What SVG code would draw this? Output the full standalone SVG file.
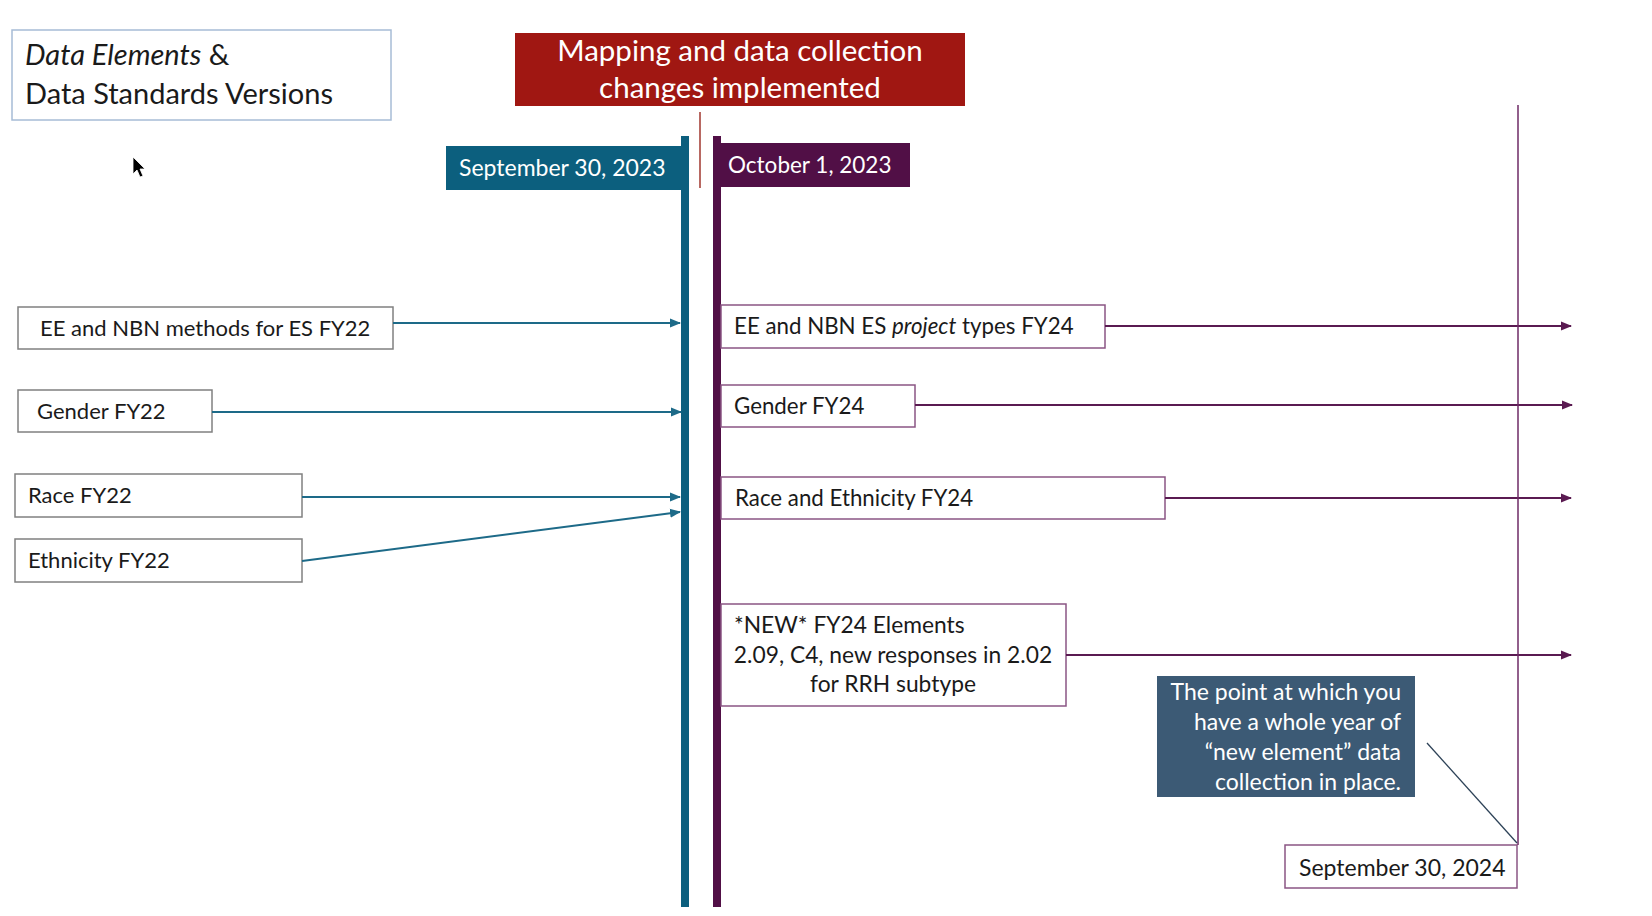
<svg xmlns="http://www.w3.org/2000/svg" width="1652" height="916" viewBox="0 0 1652 916">
  <defs>
    <style>
      .t { font-family: Lato, "Open Sans", "Liberation Sans", sans-serif; fill: #1a1a1a; }
      .w { font-family: Lato, "Open Sans", "Liberation Sans", sans-serif; fill: #ffffff; }
      .boxL { fill: #ffffff; stroke: #808080; stroke-width: 1.5; }
      .boxR { fill: #ffffff; stroke: #8a5584; stroke-width: 1.5; }
      .cL { stroke: #1d6a88; stroke-width: 2; fill: none; }
      .cR { stroke: #5a1a51; stroke-width: 2; fill: none; }
    </style>
    <marker id="aL" markerWidth="11" markerHeight="10" refX="10" refY="5" orient="auto" markerUnits="userSpaceOnUse">
      <path d="M0,0.5 L11,5 L0,9.5 z" fill="#1d6a88"/>
    </marker>
    <marker id="aR" markerWidth="11" markerHeight="10" refX="10" refY="5" orient="auto" markerUnits="userSpaceOnUse">
      <path d="M0,0.5 L11,5 L0,9.5 z" fill="#5a1a51"/>
    </marker>
  </defs>
  <rect width="1652" height="916" fill="#ffffff"/>

  <g id="title">
    <rect x="12" y="30" width="379" height="90" fill="#ffffff" stroke="#a7bcd6" stroke-width="1.5"/>
    <text class="t" x="25" y="65" font-size="29"><tspan font-style="italic">Data Elements</tspan> &amp;</text>
    <text class="t" x="25" y="104" font-size="29">Data Standards Versions</text>
  </g>

  <g id="cursor">
    <path d="M133,157 L133,174 L137,170 L140,177 L143,176 L140,169 L145,169 z" fill="#000000" stroke="#ffffff" stroke-width="0.8"/>
  </g>

  <g id="banner">
    <rect x="515" y="33" width="450" height="73" fill="#a01712"/>
    <text class="w" x="740" y="61" font-size="29.5" text-anchor="middle">Mapping and data collection</text>
    <text class="w" x="740" y="98" font-size="29.5" text-anchor="middle">changes implemented</text>
  </g>

  <g id="sep2023">
    <rect x="446" y="146" width="237" height="44" fill="#0c5f7e"/>
    <rect x="681" y="136" width="8" height="771" fill="#0c5f7e"/>
    <text class="w" x="459" y="176" font-size="23">September 30, 2023</text>
  </g>

  <g id="oct2023">
    <rect x="713" y="136" width="8" height="771" fill="#510f46"/>
    <rect x="713" y="143" width="197" height="44" fill="#510f46"/>
    <text class="w" x="728" y="173" font-size="22.5">October 1, 2023</text>
  </g>

  <g id="sep2024">
    <rect x="1285" y="845" width="232" height="43" class="boxR"/>
    <text class="t" x="1299" y="876" font-size="23">September 30, 2024</text>
  </g>

  <g id="callout">
    <rect x="1157" y="676" width="258" height="121" fill="#3c5a75"/>
    <text class="w" x="1401" y="700" font-size="23" text-anchor="end">The point at which you</text>
    <text class="w" x="1401" y="730" font-size="23" text-anchor="end">have a whole year of</text>
    <text class="w" x="1401" y="760" font-size="23" text-anchor="end">“new element” data</text>
    <text class="w" x="1401" y="790" font-size="23" text-anchor="end">collection in place.</text>
  </g>

  <g id="l1">
    <rect x="18" y="307" width="375" height="42" class="boxL"/>
    <text class="t" x="40" y="336" font-size="22">EE and NBN methods for ES FY22</text>
  </g>
  <g id="l2">
    <rect x="18" y="390" width="194" height="42" class="boxL"/>
    <text class="t" x="37" y="419" font-size="22">Gender FY22</text>
  </g>
  <g id="l3">
    <rect x="15" y="474" width="287" height="43" class="boxL"/>
    <text class="t" x="28" y="503" font-size="22">Race FY22</text>
  </g>
  <g id="l4">
    <rect x="15" y="539" width="287" height="43" class="boxL"/>
    <text class="t" x="28" y="568" font-size="22">Ethnicity FY22</text>
  </g>

  <g id="r1">
    <rect x="721" y="305" width="384" height="43" class="boxR"/>
    <text class="t" x="734" y="334" font-size="22.3">EE and NBN ES <tspan font-style="italic">project</tspan> types FY24</text>
  </g>
  <g id="r2">
    <rect x="721" y="385" width="194" height="42" class="boxR"/>
    <text class="t" x="734" y="414" font-size="22.3">Gender FY24</text>
  </g>
  <g id="r3">
    <rect x="721" y="477" width="444" height="42" class="boxR"/>
    <text class="t" x="735" y="506" font-size="22.3">Race and Ethnicity FY24</text>
  </g>
  <g id="r4">
    <rect x="721" y="604" width="345" height="102" class="boxR"/>
    <text class="t" x="734" y="633" font-size="22.8">*NEW* FY24 Elements</text>
    <text class="t" x="893" y="663" font-size="22.8" text-anchor="middle">2.09, C4, new responses in 2.02</text>
    <text class="t" x="893" y="692" font-size="22.8" text-anchor="middle">for RRH subtype</text>
  </g>

  <g id="connectors">
    <line x1="393" y1="323" x2="680" y2="323" class="cL" marker-end="url(#aL)"/>
    <line x1="212" y1="412" x2="681" y2="412" class="cL" marker-end="url(#aL)"/>
    <line x1="302" y1="497" x2="680" y2="497" class="cL" marker-end="url(#aL)"/>
    <line x1="302" y1="561" x2="680" y2="512" class="cL" marker-end="url(#aL)"/>
    <line x1="1105" y1="326" x2="1571" y2="326" class="cR" marker-end="url(#aR)"/>
    <line x1="915" y1="405" x2="1572" y2="405" class="cR" marker-end="url(#aR)"/>
    <line x1="1165" y1="498" x2="1571" y2="498" class="cR" marker-end="url(#aR)"/>
    <line x1="1066" y1="655" x2="1571" y2="655" class="cR" marker-end="url(#aR)"/>
    <line x1="700" y1="112" x2="700" y2="188" stroke="#a0362e" stroke-width="1.5"/>
    <line x1="1518" y1="105" x2="1518" y2="845" stroke="#6e2a66" stroke-width="1.5"/>
    <line x1="1427" y1="743" x2="1517" y2="843" stroke="#2e4358" stroke-width="1.3"/>
  </g>
</svg>
